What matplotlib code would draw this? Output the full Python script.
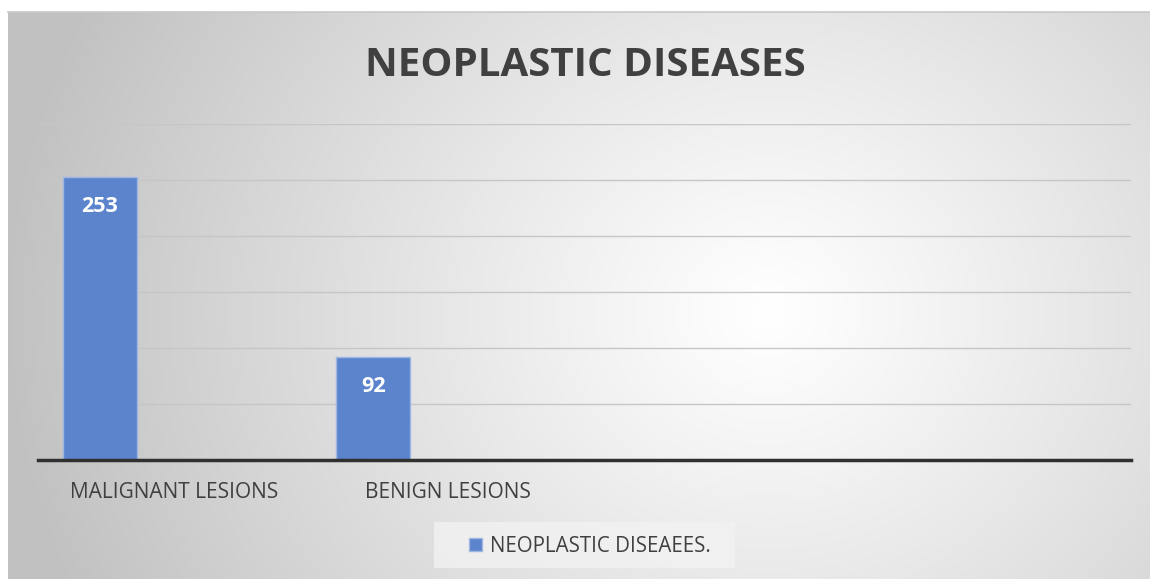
import numpy as np
import matplotlib.pyplot as plt
from matplotlib.patches import Rectangle

categories = ['MALIGNANT LESIONS', 'BENIGN LESIONS', '', '']
values = [253, 92, np.nan, np.nan]
series_name = 'NEOPLASTIC DISEAEES.'
title = 'NEOPLASTIC DISEASES'

plt.rcParams['font.family'] = ['Open Sans', 'DejaVu Sans']

W, H = 1150, 579
fig = plt.figure(figsize=(W / 100, H / 100), dpi=100)
fig.patch.set_facecolor('white')

# radial grey background
bg = fig.add_axes([8 / W, 0, 1 - 8 / W, 1 - 12 / H], zorder=-10)
yy, xx = np.mgrid[0:567, 0:1142]
cx, cy = 760, 300
r = np.sqrt(((xx - cx) / 1.0) ** 2 + ((yy - cy) / 0.9) ** 2)
r = np.clip(r / 760, 0, 1)
shade = 1.0 - 0.24 * r ** 1.1
img = np.dstack([shade, shade, shade])
bg.imshow(img, aspect='auto', interpolation='bilinear')
bg.set_axis_off()
# thin top border line
fig.add_artist(plt.Line2D([8 / W, 1], [1 - 12 / H, 1 - 12 / H], color='#c8c8c8', lw=1.2))

ax = fig.add_axes([38 / W, 1 - 460 / H, (1131 - 38) / W, (460 - 124) / H])
ax.patch.set_alpha(0)
x = np.arange(len(categories))
bars = ax.bar(x - 0.273, values, width=0.27, color='#5b84cc', edgecolor='#9fb6e2',
              linewidth=1.0, zorder=3, label=series_name)
for xi, v in zip(x, values):
    if not np.isnan(v):
        ax.text(xi - 0.273, v - 17, str(int(v)), ha='center', va='top', color='white',
                fontsize=15.5, fontweight='bold', zorder=4)

ax.set_xlim(-0.5, len(categories) - 0.5)
ax.set_ylim(0, 300)
ax.set_yticks(np.arange(0, 301, 50))
ax.yaxis.grid(True, color='#c6c6c6', lw=1.0, zorder=0)
ax.tick_params(axis='y', left=False, labelleft=False)
ax.set_xticks(x)
ax.set_xticklabels(categories, fontsize=15, color='#404040')
ax.tick_params(axis='x', length=0, pad=16)
for s in ['top', 'right', 'left']:
    ax.spines[s].set_visible(False)
ax.spines['bottom'].set_color('#303030')
ax.spines['bottom'].set_linewidth(2.5)
ax.spines['bottom'].set_zorder(5)

fig.text(585 / W, 1 - 65 / H, title, ha='center', va='center', fontsize=29,
         fontweight='bold', color='#404040')

# legend box
fig.patches.append(Rectangle((434 / W, 1 - 568 / H), (735 - 434) / W, 46 / H,
                             transform=fig.transFigure, facecolor='#f2f2f2',
                             edgecolor='none', alpha=0.8, zorder=-5))
leg = fig.legend(handles=[bars], labels=[series_name], loc='center',
                 bbox_to_anchor=(590 / W, 1 - 546 / H), frameon=False,
                 fontsize=14.8, handlelength=0.6, handleheight=0.6, handletextpad=0.4)
for t in leg.get_texts():
    t.set_color('#404040')

fig.savefig('out.png', dpi=100)
